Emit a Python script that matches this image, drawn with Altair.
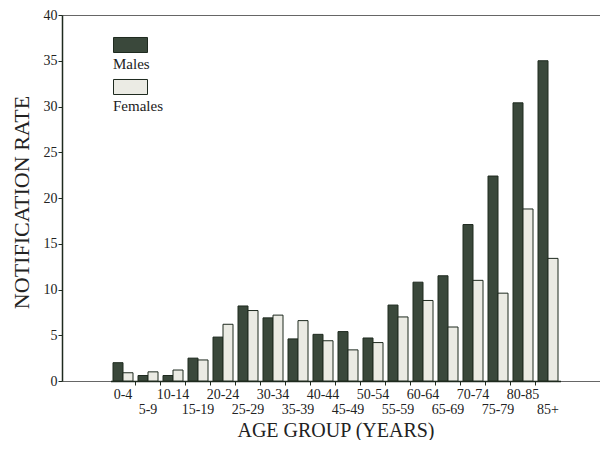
import altair as alt
import pandas as pd

ages = ["0-4", "5-9", "10-14", "15-19", "20-24", "25-29", "30-34", "35-39",
        "40-44", "45-49", "50-54", "55-59", "60-64", "65-69", "70-74", "75-79",
        "80-85", "85+"]
males = [2.0, 0.6, 0.6, 2.5, 4.8, 8.2, 6.9, 4.6, 5.1, 5.4, 4.7, 8.3, 10.8,
         11.5, 17.1, 22.4, 30.4, 35.0]
females = [0.9, 1.0, 1.2, 2.3, 6.2, 7.7, 7.2, 6.6, 4.4, 3.4, 4.2, 7.0, 8.8,
           5.9, 11.0, 9.6, 18.8, 13.4]
sexes = ["Males", "Females"]
y_ticks = [0, 5, 10, 15, 20, 25, 30, 35, 40]

rows = []
for a, m, f in zip(ages, males, females):
    rows.append({"age": a, "sex": "Males", "rate": m})
    rows.append({"age": a, "sex": "Females", "rate": f})
df = pd.DataFrame(rows)

INK = "#1e2a1f"
FONT = "Liberation Serif"
odd_labels = ages[1::2]
odd_expr = "indexof([" + ",".join("'" + s + "'" for s in odd_labels) + "], datum.value) >= 0"

chart = alt.Chart(df).mark_bar(stroke=INK, strokeWidth=1).encode(
    x=alt.X(
        "age:N", sort=ages,
        scale=alt.Scale(paddingInner=0, paddingOuter=0, range=[48.5, 498.5]),
        axis=alt.Axis(
            title="AGE GROUP (YEARS)", bandPosition=0,
            labelAngle=0, labelAlign="center", labelBaseline="top",
            labelPadding={"condition": {"test": odd_expr, "value": 17}, "value": 2},
            tickColor={"condition": {"test": "datum.value === '0-4'", "value": "transparent"}, "value": INK},
            labelOverlap=False, labelBound=False, tickSize=4,
            labelFont=FONT, labelFontSize=14, labelColor="#222",
            titleFont=FONT, titleFontSize=20, titleFontWeight="normal",
            titleColor="#222", titleY=55, titleBaseline="alphabetic",
        ),
    ),
    xOffset=alt.XOffset("sex:N", sort=sexes,
                        scale=alt.Scale(paddingInner=0, paddingOuter=0.25)),
    y=alt.Y(
        "rate:Q", scale=alt.Scale(domain=[0, 40], nice=False),
        axis=alt.Axis(
            title="NOTIFICATION RATE", values=y_ticks, grid=False, tickSize=4,
            labelPadding=1, labelFont=FONT, labelFontSize=14, labelColor="#222",
            titleFont=FONT, titleFontSize=22, titleFontWeight="normal",
            titleColor="#222", titleX=-34, titleY=187, titleBaseline="alphabetic",
        ),
    ),
    color=alt.Color(
        "sex:N", sort=sexes,
        scale=alt.Scale(domain=sexes, range=["#3a483b", "#ebebe4"]),
        legend=alt.Legend(
            title=None, orient="none", legendX=51, legendY=31, direction="vertical",
            symbolType="M-1,-1.53H1V-0.647H-1Z", symbolSize=1156,
            symbolStrokeColor=INK, symbolStrokeWidth=1, symbolOpacity=1,
            labelFont=FONT, labelFontSize=15, labelColor="#222",
            labelOffset={"expr": "-35"}, rowPadding=5, padding=0,
        ),
    ),
).properties(
    width=538, height=366,
    background="white",
    autosize=alt.AutoSizeParams(type="none"),
    padding={"left": 54, "top": 7, "right": 0, "bottom": 59},
).configure_view(
    stroke="#666", strokeWidth=1
).configure_axis(
    domainColor=INK, domainWidth=1.5, tickColor=INK, tickWidth=1
)

chart.save("out.html", embed_options={"renderer": "svg", "actions": False})
